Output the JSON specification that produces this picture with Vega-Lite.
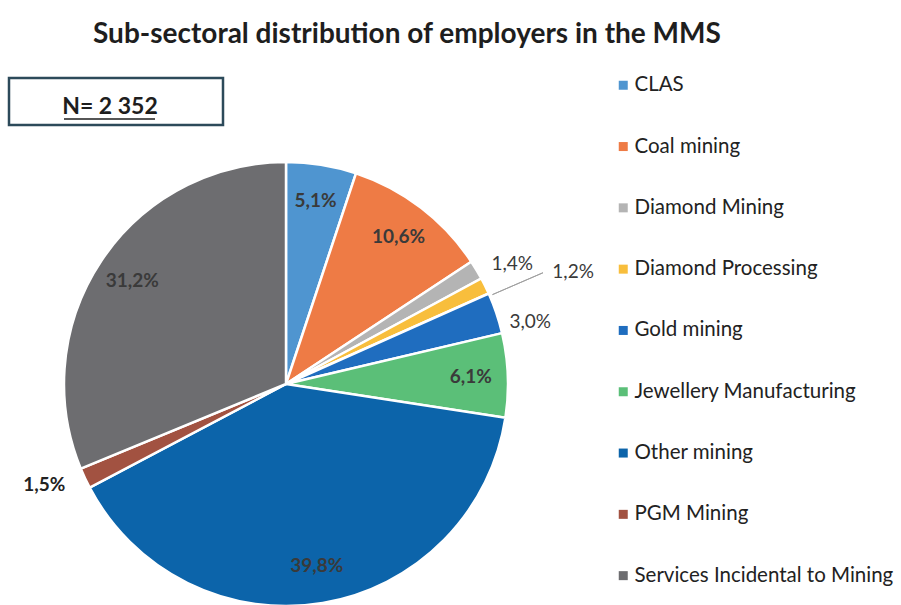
{
  "$schema": "https://vega.github.io/schema/vega-lite/v6.json",
  "autosize": "none",
  "width": 572,
  "height": 442,
  "padding": {"left": 0, "top": 163, "right": 329, "bottom": 0},
  "background": "white",
  "config": {"view": {"stroke": null}, "font": "Lato"},
  "title": {
    "text": "Sub-sectoral distribution of employers in the MMS",
    "anchor": "start",
    "frame": "group",
    "dx": 93,
    "dy": -5,
    "offset": 21,
    "font": "Lato",
    "fontSize": 28,
    "fontWeight": "bold",
    "color": "#1e1e1e"
  },
  "data": {
    "values": [
      {"cat": "CLAS", "value": 5.1, "label": "5,1%"},
      {"cat": "Coal mining", "value": 10.6, "label": "10,6%"},
      {"cat": "Diamond Mining", "value": 1.4, "label": "1,4%"},
      {"cat": "Diamond Processing", "value": 1.2, "label": "1,2%"},
      {"cat": "Gold mining", "value": 3.0, "label": "3,0%"},
      {"cat": "Jewellery Manufacturing", "value": 6.1, "label": "6,1%"},
      {"cat": "Other mining", "value": 39.8, "label": "39,8%"},
      {"cat": "PGM Mining", "value": 1.5, "label": "1,5%"},
      {"cat": "Services Incidental to Mining", "value": 31.2, "label": "31,2%"}
    ]
  },
  "layer": [
    {
      "mark": {"type": "arc", "outerRadius": 222, "stroke": "white", "strokeWidth": 2.5},
      "encoding": {
        "theta": {"field": "value", "type": "quantitative", "stack": true},
        "order": {"field": "cat", "type": "nominal", "sort": "ascending"},
        "color": {
          "field": "cat",
          "type": "nominal",
          "sort": null,
          "scale": {
            "domain": ["CLAS", "Coal mining", "Diamond Mining", "Diamond Processing", "Gold mining", "Jewellery Manufacturing", "Other mining", "PGM Mining", "Services Incidental to Mining"],
            "range": ["#4f95d0", "#ee7b45", "#b4b4b4", "#f8be3c", "#1f6dbf", "#5bbf78", "#0c64aa", "#a25241", "#6d6d70"]
          },
          "legend": {
            "title": null,
            "orient": "none",
            "legendX": 613,
            "legendY": -88,
            "symbolType": "square",
            "symbolSize": 81,
            "symbolStrokeWidth": 0,
            "labelFont": "Lato",
            "labelFontSize": 20.5,
            "labelColor": "#222222",
            "labelOffset": 1,
            "rowPadding": 40.3,
            "labelLimit": 400
          }
        }
      }
    },
    {
      "mark": {"type": "text", "radius": 185, "font": "Lato", "fontSize": 19, "fontWeight": "bold", "fill": "#3a3a3a"},
      "encoding": {
        "theta": {"field": "value", "type": "quantitative", "stack": true},
        "order": {"field": "cat", "type": "nominal", "sort": "ascending"},
        "detail": {"field": "cat", "type": "nominal"},
        "text": {"condition": {"test": "datum.value >= 5", "field": "label"}, "value": ""}
      }
    },
    {
      "mark": {"type": "text", "radius": 256, "thetaOffset": 0.052, "theta2Offset": 0.052, "font": "Lato", "fontSize": 19, "fill": "#3a3a3a"},
      "encoding": {
        "theta": {"field": "value", "type": "quantitative", "stack": true},
        "order": {"field": "cat", "type": "nominal", "sort": "ascending"},
        "detail": {"field": "cat", "type": "nominal"},
        "text": {"condition": {"test": "datum.cat === 'Diamond Mining'", "field": "label"}, "value": ""}
      }
    },
    {
      "mark": {"type": "text", "radius": 252, "thetaOffset": 0.077, "theta2Offset": 0.077, "font": "Lato", "fontSize": 19, "fill": "#3a3a3a"},
      "encoding": {
        "theta": {"field": "value", "type": "quantitative", "stack": true},
        "order": {"field": "cat", "type": "nominal", "sort": "ascending"},
        "detail": {"field": "cat", "type": "nominal"},
        "text": {"condition": {"test": "datum.cat === 'Gold mining'", "field": "label"}, "value": ""}
      }
    },
    {
      "mark": {"type": "text", "radius": 308, "thetaOffset": 0.087, "theta2Offset": 0.087, "font": "Lato", "fontSize": 19, "fill": "#3a3a3a"},
      "encoding": {
        "theta": {"field": "value", "type": "quantitative", "stack": true},
        "order": {"field": "cat", "type": "nominal", "sort": "ascending"},
        "detail": {"field": "cat", "type": "nominal"},
        "text": {"condition": {"test": "datum.cat === 'Diamond Processing'", "field": "label"}, "value": ""}
      }
    },
    {
      "mark": {"type": "text", "radius": 262, "thetaOffset": 0.042, "theta2Offset": 0.042, "font": "Lato", "fontSize": 19, "fontWeight": "bold", "fill": "#222222"},
      "encoding": {
        "theta": {"field": "value", "type": "quantitative", "stack": true},
        "order": {"field": "cat", "type": "nominal", "sort": "ascending"},
        "detail": {"field": "cat", "type": "nominal"},
        "text": {"condition": {"test": "datum.cat === 'PGM Mining'", "field": "label"}, "value": ""}
      }
    },
    {
      "mark": {"type": "arc", "innerRadius": 225, "outerRadius": 280, "padAngle": 0.6, "thetaOffset": 0.049, "theta2Offset": 0.049, "filled": false, "stroke": "#a0a0a0", "strokeWidth": 1},
      "encoding": {
        "theta": {"field": "value", "type": "quantitative", "stack": true},
        "order": {"field": "cat", "type": "nominal", "sort": "ascending"},
        "detail": {"field": "cat", "type": "nominal"},
        "strokeOpacity": {"condition": {"test": "datum.cat === 'Diamond Processing'", "value": 1}, "value": 0}
      }
    },
    {
      "data": {"values": [{"n": "N= 2 352"}]},
      "mark": {"type": "rect", "fill": null, "stroke": "#2c4a5a", "strokeWidth": 2.5},
      "encoding": {
        "x": {"value": 9},
        "x2": {"value": 223},
        "y": {"value": -85},
        "y2": {"value": -38}
      }
    },
    {
      "data": {"values": [{"n": "N= 2 352"}]},
      "mark": {"type": "text", "font": "Lato", "fontSize": 23, "fontWeight": "bold", "fill": "#1e1e1e", "align": "center", "baseline": "alphabetic"},
      "encoding": {
        "x": {"value": 110},
        "y": {"value": -49},
        "text": {"field": "n"}
      }
    },
    {
      "data": {"values": [{"n": "N= 2 352"}]},
      "mark": {"type": "rule", "stroke": "#1e1e1e", "strokeWidth": 1.5},
      "encoding": {
        "x": {"value": 64},
        "x2": {"value": 155},
        "y": {"value": -44}
      }
    }
  ]
}
